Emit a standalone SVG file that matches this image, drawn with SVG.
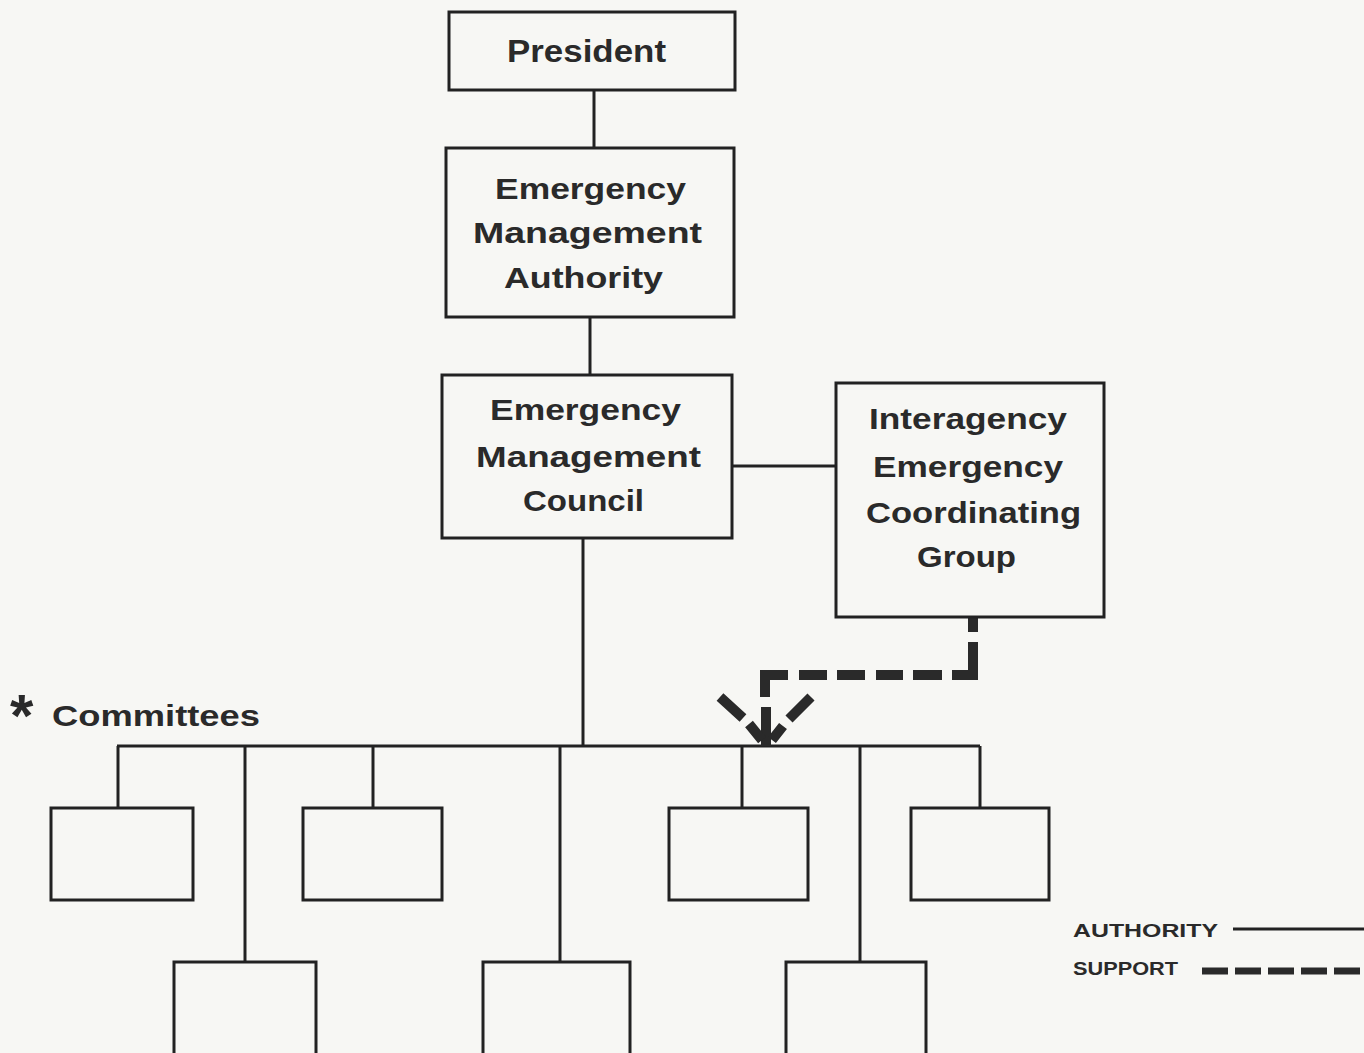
<svg xmlns="http://www.w3.org/2000/svg" width="1364" height="1053" viewBox="0 0 1364 1053">
<style>
.box{fill:none;stroke:#222;stroke-width:3}
.ln{fill:none;stroke:#222;stroke-width:3}
.sup{fill:none;stroke:#2a2a2a;stroke-width:10;stroke-linecap:butt}
.t{font-family:"Liberation Sans",Arial,sans-serif;font-weight:bold;font-size:30px;fill:#2a2a2a}
.lg{font-family:"Liberation Sans",Arial,sans-serif;font-weight:bold;font-size:19px;fill:#2a2a2a}
</style>
<rect width="1364" height="1053" fill="#f7f7f4"/>
<g id="connectors">
<line class="ln" x1="594" y1="90" x2="594" y2="148"/>
<line class="ln" x1="590" y1="317" x2="590" y2="375"/>
<line class="ln" x1="732" y1="466" x2="836" y2="466"/>
<line class="ln" x1="583" y1="538" x2="583" y2="746"/>
<line class="ln" x1="117" y1="746" x2="980" y2="746"/>
<line class="ln" x1="118" y1="746" x2="118" y2="808"/>
<line class="ln" x1="245" y1="746" x2="245" y2="962"/>
<line class="ln" x1="373" y1="746" x2="373" y2="808"/>
<line class="ln" x1="560" y1="746" x2="560" y2="962"/>
<line class="ln" x1="742" y1="746" x2="742" y2="808"/>
<line class="ln" x1="860" y1="746" x2="860" y2="962"/>
<line class="ln" x1="980" y1="746" x2="980" y2="808"/>
<g id="support">
<path class="sup" d="M973 618 V632"/>
<path class="sup" d="M973 642 V675 H952"/>
<path class="sup" d="M942 675 H913 M903 675 H876 M865 675 H837 M827 675 H799"/>
<path class="sup" d="M788 675 H765 V697"/>
<path class="sup" d="M766 707 V746"/>
<path class="sup" d="M720 697 L743 718 M749 724 L762 740"/>
<path class="sup" d="M811 697 L789 719 M783 726 L772 740"/>
</g>
</g>
<g id="president"><rect class="box" x="449" y="12" width="286" height="78"/><text class="t" x="507" y="62" style="font-size:32px" textLength="159" lengthAdjust="spacingAndGlyphs">President</text></g>
<g id="ema"><rect class="box" x="446" y="148" width="288" height="169"/>
<text class="t" x="495" y="199" textLength="191" lengthAdjust="spacingAndGlyphs">Emergency</text>
<text class="t" x="473" y="243" textLength="229" lengthAdjust="spacingAndGlyphs">Management</text>
<text class="t" x="504" y="288" textLength="159" lengthAdjust="spacingAndGlyphs">Authority</text></g>
<g id="emc"><rect class="box" x="442" y="375" width="290" height="163"/>
<text class="t" x="490" y="420" textLength="191" lengthAdjust="spacingAndGlyphs">Emergency</text>
<text class="t" x="476" y="467" textLength="225" lengthAdjust="spacingAndGlyphs">Management</text>
<text class="t" x="523" y="511" textLength="121" lengthAdjust="spacingAndGlyphs">Council</text></g>
<g id="iecg"><rect class="box" x="836" y="383" width="268" height="234"/>
<text class="t" x="869" y="429" textLength="198" lengthAdjust="spacingAndGlyphs">Interagency</text>
<text class="t" x="873" y="477" textLength="190" lengthAdjust="spacingAndGlyphs">Emergency</text>
<text class="t" x="866" y="523" textLength="215" lengthAdjust="spacingAndGlyphs">Coordinating</text>
<text class="t" x="917" y="567" textLength="99" lengthAdjust="spacingAndGlyphs">Group</text></g>
<g id="committees-label"><text class="t" x="10" y="736" style="font-size:60px">*</text><text class="t" x="52" y="726" textLength="208" lengthAdjust="spacingAndGlyphs">Committees</text></g>
<g id="c1"><rect class="box" x="51" y="808" width="142" height="92"/></g>
<g id="c2"><rect class="box" x="174" y="962" width="142" height="100"/></g>
<g id="c3"><rect class="box" x="303" y="808" width="139" height="92"/></g>
<g id="c4"><rect class="box" x="483" y="962" width="147" height="100"/></g>
<g id="c5"><rect class="box" x="669" y="808" width="139" height="92"/></g>
<g id="c6"><rect class="box" x="786" y="962" width="140" height="100"/></g>
<g id="c7"><rect class="box" x="911" y="808" width="138" height="92"/></g>
<g id="legend">
<text class="lg" x="1073" y="937" textLength="145" lengthAdjust="spacingAndGlyphs">AUTHORITY</text>
<line class="ln" x1="1233" y1="929" x2="1364" y2="929"/>
<text class="lg" x="1073" y="975" textLength="105" lengthAdjust="spacingAndGlyphs">SUPPORT</text>
<line x1="1202" y1="971" x2="1364" y2="971" stroke="#2a2a2a" stroke-width="7" stroke-dasharray="26 7"/>
</g>
</svg>
